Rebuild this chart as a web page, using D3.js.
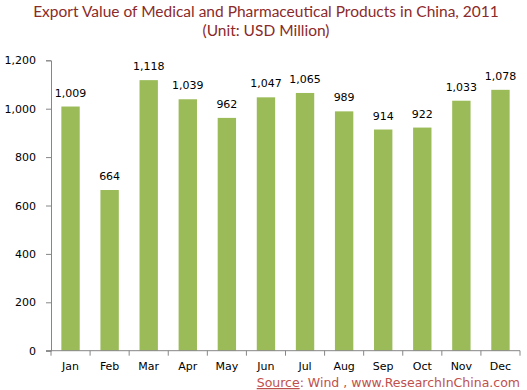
<!DOCTYPE html>
<html><head><meta charset="utf-8">
<script src="https://cdn.jsdelivr.net/npm/d3@7"></script>
<style>body{margin:0;background:#fff;}svg{display:block;}</style>
</head><body>
<svg id="c" width="527" height="390"></svg>
<script>
const months = ["Jan","Feb","Mar","Apr","May","Jun","Jul","Aug","Sep","Oct","Nov","Dec"];
const values = [1009,664,1118,1039,962,1047,1065,989,914,922,1033,1078];
const yTicks = [0,200,400,600,800,1000,1200];
const titleLines = ["Export Value of Medical and Pharmaceutical Products in China, 2011","(Unit: USD Million)"];

const svg = d3.select("#c");
const m = {left:51, right:520, top:60.3, bottom:350.7};
const x = d3.scaleBand().domain(months).range([m.left, m.right]).paddingInner(0.53).paddingOuter(0.265);
const xb = d3.scaleBand().domain(months).range([m.left, m.right]);
const y = d3.scaleLinear().domain([0,1200]).range([m.bottom, m.top]);
const fmt = d3.format(",");
const font = "Tahoma, 'DejaVu Sans', Verdana, sans-serif";

// title
svg.append("g").selectAll("text").data(titleLines).join("text")
  .attr("x", 266).attr("y", (d,i)=>17+i*19).attr("text-anchor","middle")
  .attr("font-family","'Comic Sans MS', 'Lato', sans-serif").attr("font-size",15.5)
  .attr("fill","#8B2A2A").text(d=>d);

// bars
svg.append("g").selectAll("rect").data(values).join("rect")
  .attr("x",(d,i)=>x(months[i])).attr("width",x.bandwidth())
  .attr("y",d=>y(d)).attr("height",d=>y(0)-y(d)).attr("fill","#9BBB59");

// labels
svg.append("g").selectAll("text").data(values).join("text")
  .attr("x",(d,i)=>x(months[i])+x.bandwidth()/2).attr("y",d=>y(d)-10)
  .attr("text-anchor","middle").attr("font-family",font).attr("font-size",11).attr("fill","#000")
  .text(d=>fmt(d));

// y axis
const ya = svg.append("g").attr("transform",`translate(${m.left},0)`)
  .call(d3.axisLeft(y).tickValues(yTicks).tickFormat(fmt).tickSize(5).tickPadding(10));
ya.select(".domain").attr("stroke","#868686");
ya.selectAll(".tick line").attr("stroke","#868686");
ya.selectAll("text").attr("font-family",font).attr("font-size",11).attr("fill","#000");

// x axis
const xa = svg.append("g").attr("transform",`translate(0,${m.bottom})`);
xa.append("line").attr("x1",m.left-5).attr("x2",m.right).attr("y1",0).attr("y2",0).attr("stroke","#868686");
xa.selectAll("line.t").data(months.concat(["end"])).join("line").attr("class","t")
  .attr("x1",(d,i)=>m.left+i*xb.step()).attr("x2",(d,i)=>m.left+i*xb.step())
  .attr("y1",0).attr("y2",5).attr("stroke","#868686");
xa.selectAll("text").data(months).join("text")
  .attr("x",d=>xb(d)+xb.bandwidth()/2).attr("y",19.5).attr("text-anchor","middle")
  .attr("font-family",font).attr("font-size",11).attr("fill","#000").text(d=>d);

// source
const src = svg.append("text").attr("x",520).attr("y",387).attr("text-anchor","end")
  .attr("font-family",font).attr("font-size",12.5).attr("fill","#C0504D");
src.append("tspan").attr("text-decoration","underline").text("Source");
src.append("tspan").text(": Wind , www.ResearchInChina.com");
</script>
</body></html>
